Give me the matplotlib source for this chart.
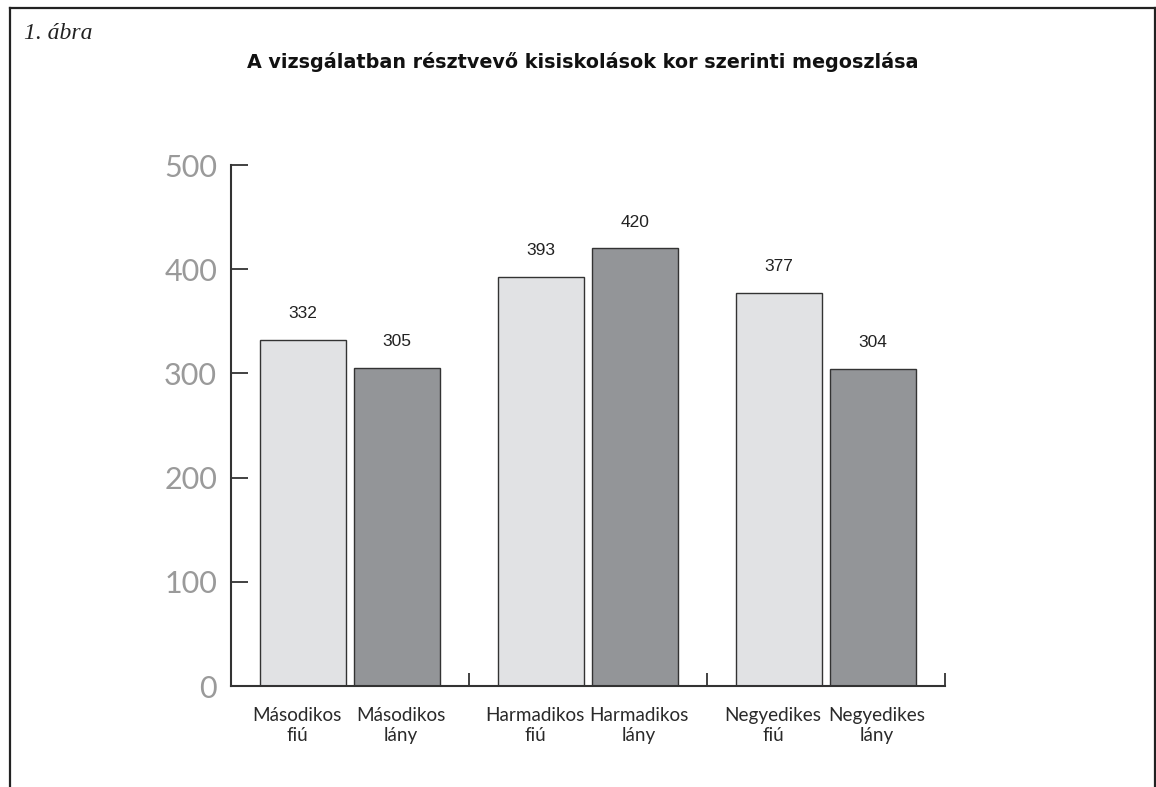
import matplotlib

matplotlib.use("Agg")
import matplotlib.pyplot as plt
import numpy as np
from matplotlib.lines import Line2D

# adatok
groups = ["Másodikos", "Harmadikos", "Negyedikes"]
fiu = [332, 393, 377]
lany = [305, 420, 304]
fiu_labels = ["Másodikos\nfiú", "Harmadikos\nfiú", "Negyedikes\nfiú"]
lany_labels = ["Másodikos\nlány", "Harmadikos\nlány", "Negyedikes\nlány"]
y_ticks = [0, 100, 200, 300, 400, 500]

title = "A vizsgálatban résztvevő kisiskolások kor szerinti megoszlása"

fig = plt.figure(figsize=(11.56, 7.87), dpi=100)
ax = fig.add_axes([0.1998, 0.1283, 0.6177, 0.662])

x = np.arange(len(groups))
width = 0.361
off = 0.197
edge = "#333333"

b1 = ax.bar(x - off, fiu, width, color="#e1e2e4", edgecolor=edge, linewidth=1.0)
b2 = ax.bar(x + off, lany, width, color="#939598", edgecolor=edge, linewidth=1.0)

for bars, vals in ((b1, fiu), (b2, lany)):
    for bar, v in zip(bars, vals):
        ax.annotate(str(v), (bar.get_x() + bar.get_width() / 2, v),
                    xytext=(0, 19), textcoords="offset points",
                    ha="center", va="center", fontsize=12.5,
                    family="Liberation Sans", color="#222222")

# kategória feliratok a sávok alatt (kicsit széthúzva, mint az eredetin)
for xs, labs, dx in ((x - off, fiu_labels, -4.5), (x + off, lany_labels, 3.0)):
    for xi, lab in zip(xs, labs):
        ax.annotate(lab, (xi, 0), xytext=(dx, -15), textcoords="offset points",
                    ha="center", va="top", fontsize=13.6, family="Lato",
                    color="#2a2a2a", linespacing=1.22)

ax.set_xlim(-0.5, 2.5)
ax.set_ylim(0, 500)
ax.set_yticks(y_ticks)
ax.set_yticklabels([str(t) for t in y_ticks], fontsize=22, family="Lato",
                   color="#9a9a9a")
ax.set_xticks([0.5, 1.5, 2.5])
ax.set_xticklabels([])

ax.tick_params(axis="y", direction="in", length=12, width=1.3, color=edge, pad=10)
ax.tick_params(axis="x", direction="in", length=9.5, width=1.3, color=edge)

for s in ("top", "right"):
    ax.spines[s].set_visible(False)
for s in ("left", "bottom"):
    ax.spines[s].set_color(edge)
    ax.spines[s].set_linewidth(1.5)

fig.text(0.5045, 0.921, title, ha="center", va="center", fontsize=13.8,
         fontweight="bold", family="DejaVu Sans", color="#111111")
fig.text(0.021, 0.958, "1. ábra", ha="left", va="center", fontsize=17,
         style="italic", family="Liberation Serif", color="#222222")

# keret
W, H = 1156, 787
kx0, kx1, ky = 10 / W, 1154.5 / W, 1 - 8 / H
for xs, ys in (([kx0, kx1], [ky, ky]), ([kx0, kx0], [0, ky]), ([kx1, kx1], [0, ky])):
    fig.add_artist(Line2D(xs, ys, transform=fig.transFigure, color="#222222", linewidth=1.6))

fig.savefig("out.png", dpi=100)
